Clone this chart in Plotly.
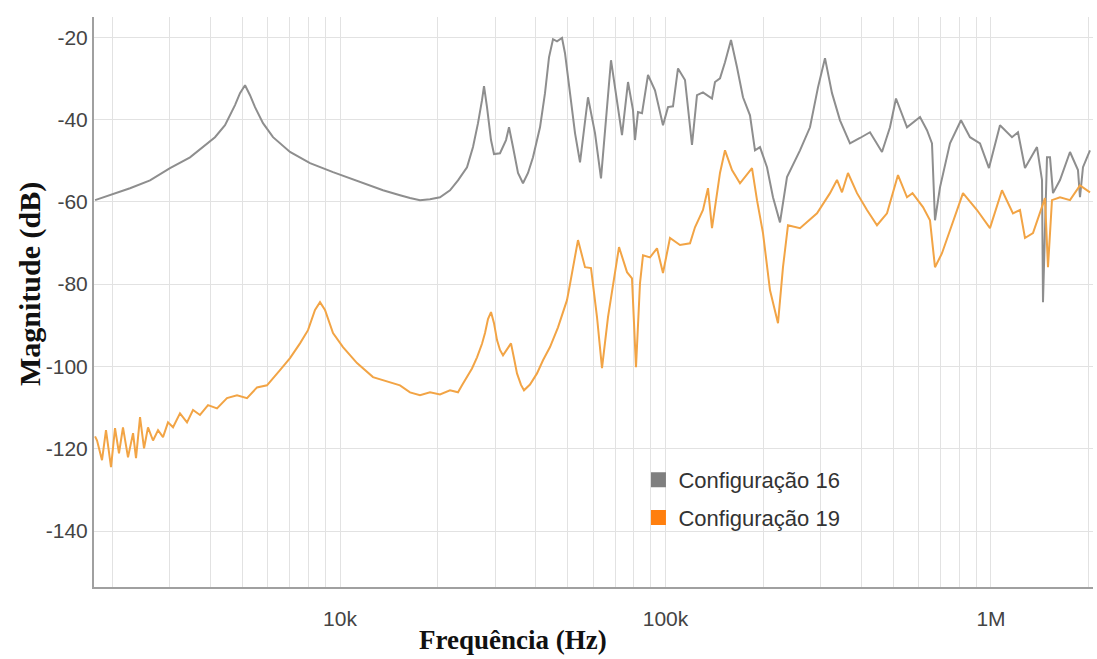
import plotly.graph_objects as go

# Configuração 16 (gray) - frequency (Hz) and magnitude (dB)
freq_16 = [1768, 1965, 2264, 2608, 3004, 3461, 3848, 4130, 4433, 4758, 4929, 5107, 5291, 5481,
           5800, 6226, 7021, 8088, 9517, 11520, 13555, 15288, 16408, 17610, 18901, 20287,
           21775, 23042, 24557, 25621, 26544, 27306, 27696, 28289, 29101, 29725, 31012,
           32358, 33053, 34001, 35226, 36489, 37808, 39165, 41158, 42639, 43863, 45122,
           46417, 48092, 49119, 50889, 52721, 54620, 57792,
           60735, 63364, 68011, 70964, 73512, 76706, 79460, 80594, 82324, 84684, 88360,
           92834, 98243, 101780, 105450, 109250, 114790, 120610, 124950, 130370, 138950,
           141930, 147030, 152340, 158940, 165830, 173020, 181800, 188350, 195120, 205040,
           213920, 224790, 236200, 258950, 277920, 294090, 309040, 324740, 343650, 368820,
           395820, 424860, 462530, 489440, 510660, 552010, 605240, 635880, 658790, 672920,
           697140, 748260, 808790, 861930, 925160, 985840, 1065700, 1160100, 1210500,
           1271900, 1384500, 1434500, 1444600, 1486100, 1518100, 1550600, 1629300,
           1748800, 1850400, 1876800, 1917100, 2014500]
mag_16 = [-59.6, -58.4, -56.7, -54.8, -51.8, -49.2, -46.2, -44.3, -41.4, -36.5, -33.6, -31.7, -34.1, -37.0,
          -40.9, -44.3, -47.9, -50.6, -52.8, -55.2, -57.2, -58.4, -59.1, -59.6, -59.4, -58.9,
          -57.2, -54.8, -51.6, -46.7, -40.9, -35.3, -31.9, -37.0, -45.0, -48.4, -48.2,
          -45.0, -41.9, -46.7, -53.0, -55.5, -53.0, -49.2, -41.9, -33.6, -24.9, -20.5,
          -21.0, -20.2, -23.9, -33.6, -43.3, -50.4, -34.6,
          -43.3, -54.3, -25.6, -35.3, -43.8, -30.9, -37.7, -45.0, -38.2, -38.5, -29.2,
          -32.9, -41.4, -37.0, -36.8, -27.6, -30.4, -46.2, -34.1, -33.4, -34.9,
          -30.9, -30.0, -26.1, -20.7, -27.3, -34.6, -39.0, -47.5, -46.7, -51.6,
          -58.9, -65.0, -54.0, -47.5, -41.9, -32.2, -25.1, -33.6, -40.2, -45.8,
          -44.5, -43.1, -47.9, -41.9, -34.9, -41.9, -39.4, -42.6, -45.8, -64.5,
          -56.5, -45.8, -40.2, -44.3, -45.8, -51.8, -41.4, -44.3, -43.1,
          -51.8, -46.7, -54.7, -84.4, -49.2, -49.2, -57.9, -54.7,
          -47.9, -52.3, -58.9, -51.6, -47.5]

# Configuração 19 (orange)
freq_19 = [1768, 1793, 1857, 1910, 1979, 2036, 2094, 2154, 2232, 2313, 2362, 2430, 2500, 2571,
           2664, 2760, 2859, 2962, 3069, 3224, 3388, 3535, 3714, 3931, 4189, 4496, 4826, 5180,
           5559, 5966, 6541, 7021, 7535, 7974, 8379, 8681, 8993, 9317, 9517, 10214, 11278,
           12629, 14549, 15288, 16408, 17610, 18901, 20287, 21775, 23042, 23704, 24557,
           25441, 26357, 27306, 27892, 28489, 29101, 29725, 30364, 31012, 31679, 32588,
           33523, 34243, 34975, 35981, 36752, 38346, 40292, 42040, 44175, 46746, 48429,
           49816, 50889, 51979, 53095, 53848,
           56589, 59035, 61596, 63815, 66579, 71974, 76163, 78896,
           81165, 83492, 85288, 89624, 94168, 98243, 103230, 110800, 118930, 123190,
           130370, 135070, 138950, 147030, 152340, 160070, 169380, 184400, 191040, 199320,
           209450, 221640, 229600, 237860, 258950, 292060, 320180, 336410, 348550, 363630,
           387540, 415940, 446440, 479210, 517980, 552010, 573910, 618120, 649510, 672920,
           707050, 748260, 820300, 905770, 992830, 1080900, 1168300, 1227700, 1271900,
           1345900, 1434500, 1465100, 1496600, 1539400, 1629300, 1748800, 1876800, 2014500]
mag_19 = [-117.0, -118.0, -122.8, -115.5, -124.5, -115.0, -121.1, -114.8, -122.1, -116.2, -122.3, -112.3, -119.9, -114.8,
          -118.0, -115.5, -117.2, -113.6, -114.8, -111.4, -113.6, -110.6, -111.8, -109.4, -110.2, -107.7, -107.0, -107.7,
          -105.1, -104.6, -100.9, -98.0, -94.4, -91.2, -86.3, -84.4, -86.3, -90.0, -91.9, -95.3, -99.2,
          -102.6, -104.1, -104.6, -106.3, -107.0, -106.3, -106.8, -105.8, -106.3, -104.6, -102.6,
          -100.5, -97.8, -94.5, -91.9, -88.5, -86.8, -89.5, -93.6, -96.0, -97.3, -96.0,
          -94.4, -98.0, -101.7, -104.5, -105.8, -104.4, -101.7, -98.5, -95.3, -90.5, -87.0,
          -83.9, -80.0, -75.9, -71.5, -69.3,
          -75.9, -76.1, -88.0, -100.4, -88.0, -71.0, -77.1, -78.6,
          -100.2, -79.8, -73.0, -73.5, -71.3, -77.3, -68.8, -70.5, -70.1, -66.2,
          -62.0, -56.7, -66.4, -53.0, -47.5, -52.3, -55.5, -51.8, -59.6, -67.6,
          -81.5, -89.5, -75.9, -65.7, -66.4, -62.8, -57.9, -54.7, -57.7, -53.0,
          -57.9, -62.0, -65.7, -62.8, -53.5, -58.9, -57.9, -61.3, -64.5, -75.9,
          -72.5, -66.9, -57.9, -62.0, -66.4, -57.2, -62.8, -62.0, -68.8,
          -67.6, -61.3, -59.1, -75.9, -59.6, -58.9, -59.6, -56.0, -57.7]

# gridline positions (every 1..9 per decade) with labels only at decades
grid_vals = [m * 10 ** e for e in range(3, 7) for m in range(1, 10)]
grid_vals = [v for v in grid_vals if 1700 <= v <= 2100000]
grid_text = {10000: '10k', 100000: '100k', 1000000: '1M'}
tick_text = [grid_text.get(v, '') for v in grid_vals]

y_ticks = [-140, -120, -100, -80, -60, -40, -20]
y_text = [str(v) for v in y_ticks]  # plain hyphen, like the original

gray = '#8e8e8e'
orange = '#f2a445'
title_font = dict(family='Liberation Serif, Times New Roman', color='#111')

fig = go.Figure()
fig.add_trace(go.Scatter(x=freq_16, y=mag_16, mode='lines', showlegend=False,
                         line=dict(color=gray, width=2)))
fig.add_trace(go.Scatter(x=freq_19, y=mag_19, mode='lines', showlegend=False,
                         line=dict(color=orange, width=2)))

# legend entries with square swatches
fig.add_trace(go.Scatter(x=[None], y=[None], mode='markers', name='Configuração 16',
                         legendgroup='a',
                         marker=dict(symbol='square', size=15, color='#7f7f7f')))
fig.add_trace(go.Scatter(x=[None], y=[None], mode='markers', name='Configuração 19',
                         legendgroup='b',
                         marker=dict(symbol='square', size=15, color='#ff7f0e')))

fig.update_layout(
    width=1097, height=659,
    margin=dict(l=94, r=4, t=17, b=72),
    paper_bgcolor='white', plot_bgcolor='white',
    font=dict(family='Arial, Liberation Sans', size=21, color='#444'),
    legend=dict(x=0.545, y=0.2245, xanchor='left', yanchor='top',
                bgcolor='rgba(0,0,0,0)', font=dict(size=22, color='#333'),
                tracegroupgap=6, itemwidth=30),
)

# axis titles placed where the original has them (x title sits left of centre)
fig.add_annotation(text='<b>Frequência (Hz)</b>', xref='paper', yref='paper',
                   x=0.4194, y=-0.093, xanchor='center', yanchor='middle',
                   showarrow=False, font=dict(size=27, **title_font))
fig.add_annotation(text='<b>Magnitude (dB)</b>', xref='paper', yref='paper',
                   x=-0.0641, y=0.5316, xanchor='center', yanchor='middle',
                   textangle=-90, showarrow=False, font=dict(size=30, **title_font))

fig.update_xaxes(type='log', range=[3.2442, 6.3134], automargin=False,
                 tickvals=grid_vals, ticktext=tick_text,
                 ticks='outside', ticklen=12, tickcolor='rgba(0,0,0,0)',
                 showgrid=True, gridcolor='#e2e2e2', gridwidth=1,
                 showline=True, linecolor='#a0a0a0', linewidth=2,
                 tickfont=dict(size=21, color='#444'),
                 zeroline=False)
fig.update_yaxes(range=[-153.6, -15.1], automargin=False,
                 tickvals=y_ticks, ticktext=y_text, ticks='',
                 showgrid=True, gridcolor='#e2e2e2', gridwidth=1,
                 showline=True, linecolor='#a0a0a0', linewidth=2,
                 tickfont=dict(size=21, color='#444'),
                 zeroline=False)

# drop the page's default body margin so the figure fills the window exactly
fig.write_html('out.html', config={'displayModeBar': False},
               post_script="document.body.style.margin='0';")
